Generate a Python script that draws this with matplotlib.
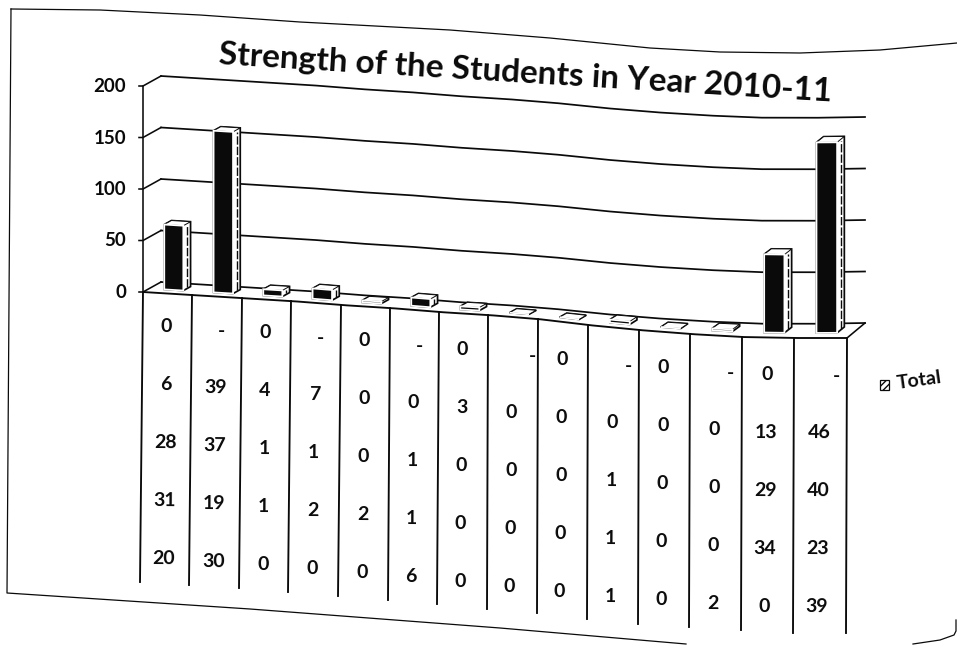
import numpy as np
import matplotlib
matplotlib.use("Agg")
import matplotlib.pyplot as plt
from matplotlib.patches import Polygon, Rectangle
from matplotlib.transforms import Transform

# ---------- data ----------
title = "Strength of the Students in Year 2010-11"
legend_label = "Total"
y_ticks = [0, 50, 100, 150, 200]
bar_values = [63, 157, 6, 10, 2, 8, 3, 0, 0, 3, 0, 2, 76, 185]
row_0 = ["0", "-", "0", "-", "0", "-", "0", "-", "0", "-", "0", "-", "0", "-"]
row_1 = ["6", "39", "4", "7", "0", "0", "3", "0", "0", "0", "0", "0", "13", "46"]
row_2 = ["28", "37", "1", "1", "0", "1", "0", "0", "0", "1", "0", "0", "29", "40"]
row_3 = ["31", "19", "1", "2", "2", "1", "0", "0", "0", "1", "0", "0", "34", "23"]
row_4 = ["20", "30", "0", "0", "0", "6", "0", "0", "0", "1", "0", "2", "0", "39"]
rows = [row_0, row_1, row_2, row_3, row_4]

# ---------- geometry of the skewed scan (pixels) ----------
W, H = 957, 645
EDGE_X = [143, 192, 242, 291, 341, 390, 439, 488, 538, 588, 639, 690, 742, 794, 847]
EDGE_Y = [292, 295, 298, 301, 305, 308, 312, 315, 319, 325, 330, 334, 337, 338, 338]
BOT_X = [140, 189, 239, 288, 338, 388, 437, 487, 537, 587, 638, 689, 741, 793, 846]
BOT_Y = [582, 585, 588, 592, 596, 600, 604, 609, 613, 619, 624, 627, 630, 633, 633]
TEXT_Y = [385, 388, 391, 395, 399, 403, 408, 413, 418, 423, 426, 430, 433, 433]
DASH_DX = {1: 6, 3: 6, 5: 6, 7: 21, 9: 16, 11: 16, 13: 17}
ROW_H = 58
UNITS = np.arange(15)
PX_PER_VALUE = 1.03
DEPTH_X = 18


class Warp(Transform):
    """(category, value) -> scan pixels, at depth t (0 front of floor, 1 back wall)."""
    input_dims = output_dims = 2

    def __init__(self, t=0.0):
        super().__init__()
        self.t = t

    def transform_non_affine(self, values):
        values = np.asarray(values, float)
        u, v = values[:, 0], values[:, 1]
        x = np.interp(u, UNITS, EDGE_X) + self.t * DEPTH_X
        dy = np.interp(u, [0, 8, 14], [10, 10, 15])
        y = np.interp(u, UNITS, EDGE_Y) - self.t * dy - v * PX_PER_VALUE
        return np.column_stack([x, y])


def pts(*triples):
    return [tuple(Warp(t).transform_non_affine([[u, v]])[0]) for u, v, t in triples]


plt.rcParams["font.family"] = ["Lato", "DejaVu Sans"]
plt.rcParams["font.weight"] = "bold"
fig = plt.figure(figsize=(W / 100, H / 100), dpi=100, facecolor="white")
ax = fig.add_axes([0, 0, 1, 1])
ax.set_xlim(0, W)
ax.set_ylim(H, 0)
ax.set_autoscale_on(False)
ax.axis("off")

INK = "#0a0a0a"
LW = 1.25

# outer frame of the scanned page
top_x = [11, 100, 200, 300, 450, 550, 650, 720, 800, 880, 957]
top_y = [9, 10, 15, 22, 30, 38, 48, 52, 53, 50, 43]
ax.plot(top_x, top_y, color=INK, lw=0.9)
ax.plot([11, 7, 250, 500, 686], [9, 593, 609, 628, 644], color=INK, lw=0.9)
ax.plot([913, 940, 954, 956, 956], [644, 640, 635, 631, 620], color=INK, lw=0.9)

# gridlines on the back wall, their side-wall stubs and ticks
ugrid = np.linspace(0, 14, 300)
wall = Warp(1.0) + ax.transData
for v in y_ticks:
    ax.plot(ugrid, np.full_like(ugrid, v), transform=wall, color=INK, lw=LW, zorder=2)
    (x0, y0), (x1, y1) = pts((0, v, 0), (0, v, 1))
    ax.plot([x0 - 4, x0, x1], [y0, y0, y1], color=INK, lw=LW - 0.1, zorder=2)
    ax.text(x0 - 17, y0 + 0.5, str(v), ha="right", va="center", fontsize=13.5, color=INK)

# floor front edge, right diagonal
front = Warp(0.0) + ax.transData
ax.plot(ugrid, np.zeros_like(ugrid), transform=front, color=INK, lw=LW + 0.1, zorder=2)
(x0, y0), (x1, y1) = pts((14, 0, 0), (14, 0, 1))
ax.plot([x0, x1], [y0, y1], color=INK, lw=LW - 0.1, zorder=2)

# left axis
(xa, ya), = pts((0, 200, 0))
ax.plot([xa, EDGE_X[0]], [ya, EDGE_Y[0]], color=INK, lw=LW - 0.1, zorder=2)

# table verticals
for tx, ty, bx, by in zip(EDGE_X, EDGE_Y, BOT_X, BOT_Y):
    ax.plot([tx, bx], [ty, by], color=INK, lw=LW + 0.1, zorder=2)

# table text
for r, row in enumerate(rows):
    for c, label in enumerate(row):
        cx = (EDGE_X[c] + EDGE_X[c + 1]) / 2 - 1 - 0.6 * r
        cy = TEXT_Y[c] + (r - 1) * ROW_H
        if label == "-":
            cx += DASH_DX[c]
            cy += 2
        ax.text(cx, cy, label, ha="center", va="center", fontsize=14, color=INK, rotation=-0.5)

# 3-D columns
cats = np.arange(len(bar_values))
bar_w = 0.39
T0, T1 = 0.35, 0.75
u0s = cats + 0.5 - bar_w / 2
u1s = cats + 0.5 + bar_w / 2
for u0, u1, v in zip(u0s, u1s, bar_values):
    hexagon = pts((u0, 0, T0), (u1, 0, T0), (u1, 0, T1), (u1, v, T1), (u0, v, T1), (u0, v, T0))
    ax.add_patch(Polygon(hexagon, closed=True, fc="white", ec=INK, lw=LW, zorder=3))
    ax.add_patch(Polygon(pts((u0, v, T0), (u1, v, T0), (u1, v, T1), (u0, v, T1)),
                         closed=True, fc="white", ec=INK, lw=0.7, zorder=3))
ax.bar(cats + 0.5, bar_values, width=bar_w, transform=Warp(T0) + ax.transData,
       color=INK, edgecolor="white", linewidth=1.3, zorder=4)
for c, v in zip(cats, bar_values):
    if v >= 5:
        mid = Warp((T0 + T1) / 2 + 0.02) + ax.transData
        ax.plot([c + 0.5 + bar_w / 2] * 2, [1, v - 2], transform=mid, color=INK, lw=1.0,
                ls=(0, (6, 1.5)), zorder=4)

# title
ax.text(525, 73, title, ha="center", va="center", rotation=-3.5, rotation_mode="anchor",
        fontsize=24, color=INK)

# legend
ax.add_patch(Rectangle((880, 380), 9, 10, fc="white", ec=INK, lw=0.9, hatch="/////", zorder=3))
ax.text(919, 380, legend_label, ha="center", va="center", rotation=8, rotation_mode="anchor",
        fontsize=14, color=INK)

fig.savefig("out.png", dpi=100, facecolor="white")
